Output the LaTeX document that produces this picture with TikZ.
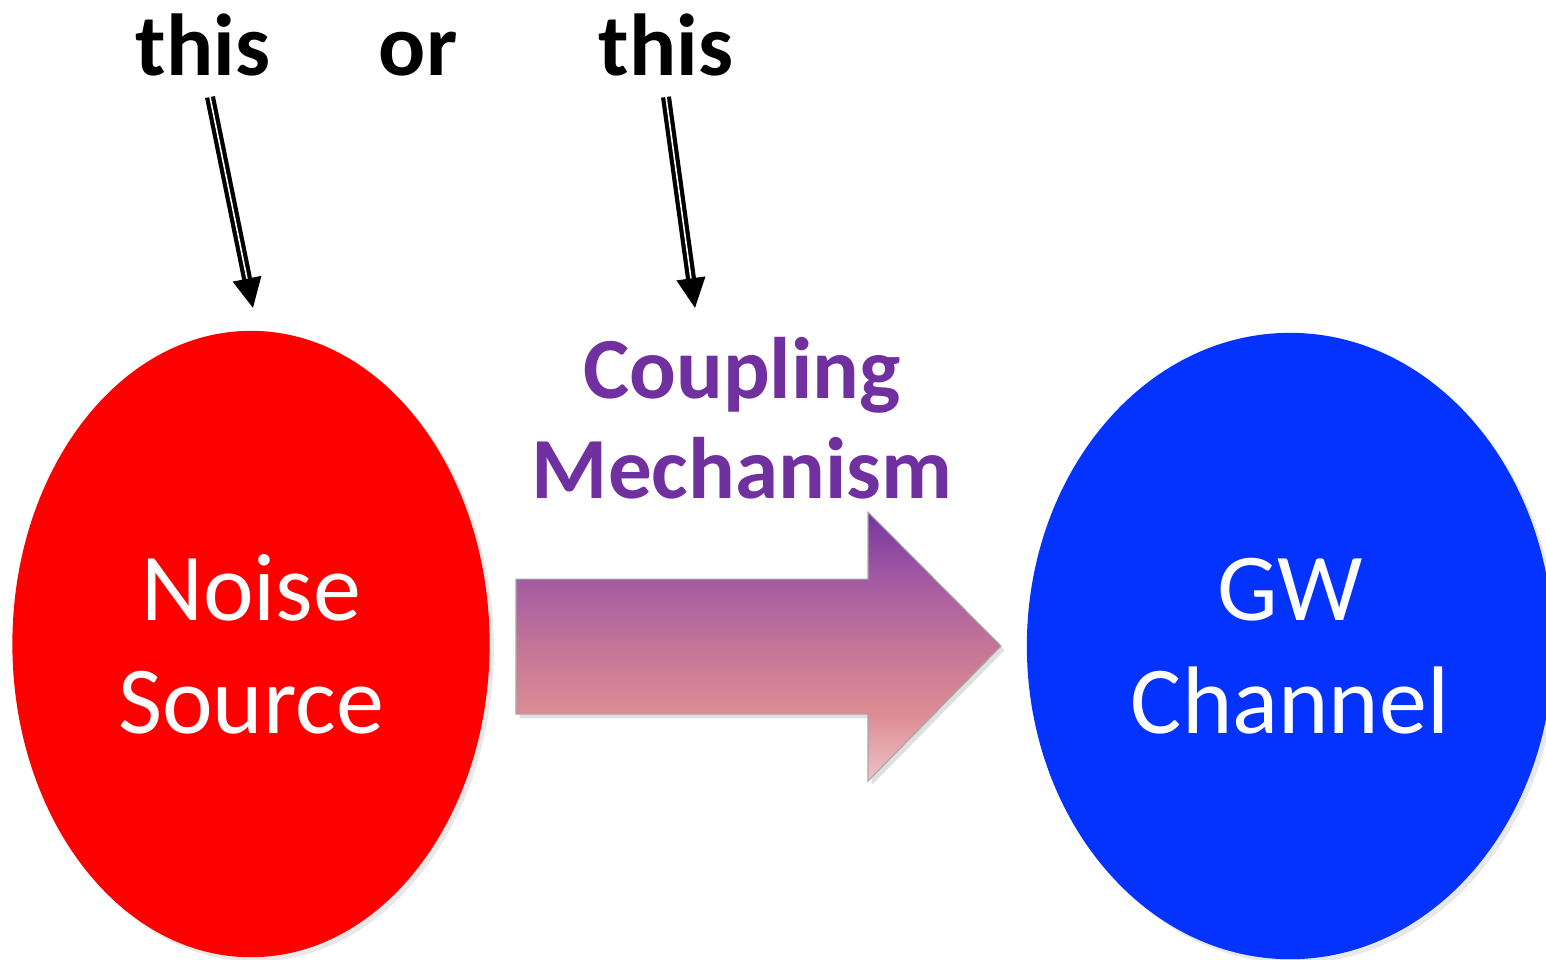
\documentclass[tikz,border=0pt]{standalone}
\usepackage{fontspec}
\setmainfont{Carlito}
\usepackage{tikz}
\usetikzlibrary{arrows.meta,positioning,shapes.geometric,shadows}
\usepackage{xcolor}
\definecolor{noisered}{HTML}{FF0000}
\definecolor{channelblue}{HTML}{0433FF}
\definecolor{couplingpurple}{HTML}{7030A0}
\definecolor{shadeA}{HTML}{EDC2C6}
\definecolor{shadeB}{HTML}{DC8C93}
\definecolor{shadeC}{HTML}{C47598}
\definecolor{shadeD}{HTML}{A45AA2}
\definecolor{shadeE}{HTML}{7535A0}
\pgfdeclareverticalshading{couplingshade}{100bp}{color(0bp)=(shadeA); color(25bp)=(shadeA);
  color(37.5bp)=(shadeB); color(50bp)=(shadeC); color(62.5bp)=(shadeD); color(75bp)=(shadeE); color(100bp)=(shadeE)}

\begin{document}
\begin{tikzpicture}[x=0.01cm,y=-0.01cm,
  blob/.style={ellipse,minimum height=6.26cm,text=white,align=center,
    font=\fontsize{27.3}{32.1}\selectfont,
    drop shadow={opacity=0.18,shadow xshift=1.2pt,shadow yshift=-1.2pt}},
  pick/.style={anchor=base,font=\bfseries\fontsize{25}{30}\selectfont},
  pointer/.style={line width=1.2pt,double=white,double distance=0.45pt,
    -{Triangle[length=8.5pt,width=8pt]}}]
\useasboundingbox (0,0) rectangle (1546,959);
% the two ends
\node[blob,fill=noisered,minimum width=4.77cm] (noise) at (251,644) {Noise\\Source};
\node[blob,fill=channelblue,minimum width=5.26cm] (channel) at (1290,646) {GW\\Channel};
% the coupling arrow
\shade[shading=couplingshade,draw=black!35,line width=0.3pt,
  drop shadow={opacity=0.25,shadow xshift=1pt,shadow yshift=-1.2pt}]
  (516,579) -- (868,579) -- (868,512) -- (1001,646) -- (868,781) -- (868,714) -- (516,714) -- cycle;
\node[align=center,text=couplingpurple,font=\bfseries\fontsize{24.8}{28.5}\selectfont]
  (coupling) at (742,418) {Coupling\\Mechanism};
% which one to blame
\node[pick] (this1) at (203,75) {this};
\node[pick] (or) at (418,75) {or};
\node[pick] (this2) at (666,75) {this};
\coordinate (tail1) at (210,97);
\coordinate (tip1) at (253,308);
\coordinate (tail2) at (666,97);
\coordinate (tip2) at (695,308);
\draw[pointer] (tail1) -- (tip1);
\draw[pointer] (tail2) -- (tip2);
\end{tikzpicture}
\end{document}
